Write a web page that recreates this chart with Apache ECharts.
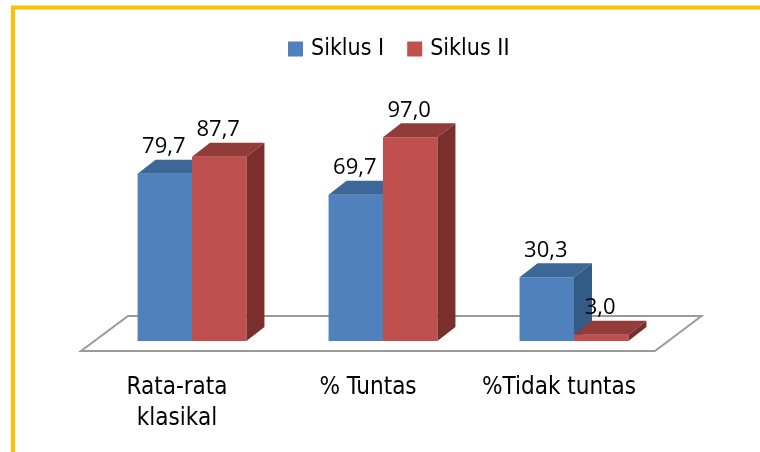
<!DOCTYPE html>
<html>
<head>
<meta charset="utf-8">
<script src="https://cdn.jsdelivr.net/npm/echarts@6/dist/echarts.min.js"></script>
<style>
  html, body { margin: 0; padding: 0; background: #fff; }
  #chart { width: 760px; height: 452px; }
</style>
</head>
<body>
<div id="chart"></div>
<script>
const categories = ['Rata-rata\nklasikal', '% Tuntas', '%Tidak tuntas'];
const siklus1 = [79.7, 69.7, 30.3];
const siklus2 = [87.7, 97.0, 3.0];

// colours of the 3d faces: front, top, side
const blueFaces = ['#4f81bd', '#3d6796', '#345a86'];
const redFaces = ['#c0504d', '#923c3a', '#7b2f2d'];

const depthX = 18, depthY = -14;
const labelFont = "'Liberation Sans Narrow', 'DejaVu Sans Condensed', sans-serif";

const chart = echarts.init(document.getElementById('chart'), null, { renderer: 'canvas' });

function fmt(v) {
  return v.toFixed(1).replace('.', ',');
}

function makeBar(faces, slot) {
  return function (params, api) {
    const cat = api.value(0);
    const val = api.value(1);
    const top = api.coord([cat, val]);
    const base = api.coord([cat, 0]);
    const w = api.size([1, 0])[0] * 0.285;
    const x = top[0] + slot * w;
    const yt = top[1], yb = base[1];
    return {
      type: 'group',
      children: [
        { type: 'rect', shape: { x: x, y: yt, width: w, height: yb - yt }, style: { fill: faces[0] } },
        { type: 'polygon', shape: { points: [[x, yt], [x + w, yt], [x + w + depthX, yt + depthY], [x + depthX, yt + depthY]] }, style: { fill: faces[1] } },
        { type: 'polygon', shape: { points: [[x + w, yt], [x + w + depthX, yt + depthY], [x + w + depthX, yb + depthY], [x + w, yb]] }, style: { fill: faces[2] } },
        { type: 'text', x: x + w / 2 - 1, y: yt - 27, z2: 10,
          style: { text: fmt(val), fill: '#000', font: "22px 'Open Sans', sans-serif", align: 'center', verticalAlign: 'middle' } }
      ]
    };
  };
}

function renderFloor(params) {
  const cs = params.coordSys;
  const x0 = cs.x, x1 = cs.x + cs.width, yb = cs.y + cs.height;
  return {
    type: 'polygon',
    shape: { points: [[x0 - 15.5, yb + 10], [x1 - 14.5, yb + 10], [x1 + 32, yb - 25], [x0 + 31.5, yb - 25]] },
    style: { fill: '#fff', stroke: '#9a9a9a', lineWidth: 2 }
  };
}

const option = {
  animation: false,
  backgroundColor: '#fff',
  graphic: [{
    type: 'rect', silent: true, z: -10,
    shape: { x: 13, y: 7.5, width: 800, height: 500 },
    style: { fill: '#fff', stroke: '#ffc000', lineWidth: 4 }
  }],
  legend: {
    left: 283, top: 30,
    itemWidth: 15, itemHeight: 15, itemGap: 23,
    icon: 'rect',
    data: ['Siklus I', 'Siklus II'],
    textStyle: { fontFamily: labelFont, fontSize: 23, color: '#000', lineHeight: 28, padding: [0, 0, 0, 3] }
  },
  grid: { left: 96.5, right: 90.5, top: 131, bottom: 111 },
  xAxis: {
    type: 'category',
    data: categories,
    axisLine: { show: false },
    axisTick: { show: false },
    splitLine: { show: false },
    axisLabel: { interval: 0, margin: 31, fontFamily: labelFont, fontSize: 24, lineHeight: 31, color: '#000', padding: [0, 30, 0, 0] }
  },
  yAxis: { type: 'value', min: 0, max: 100, show: false },
  series: [
    { type: 'custom', name: 'floor', silent: true, z: 1, data: [[0, 0]], renderItem: renderFloor },
    { type: 'custom', name: 'Siklus I', z: 2, itemStyle: { color: blueFaces[0] },
      data: siklus1.map((v, i) => [i, v]), encode: { x: 0, y: 1 }, renderItem: makeBar(blueFaces, -1) },
    { type: 'custom', name: 'Siklus II', z: 3, itemStyle: { color: redFaces[0] },
      data: siklus2.map((v, i) => [i, v]), encode: { x: 0, y: 1 }, renderItem: makeBar(redFaces, 0) }
  ]
};

chart.setOption(option);
</script>
</body>
</html>
